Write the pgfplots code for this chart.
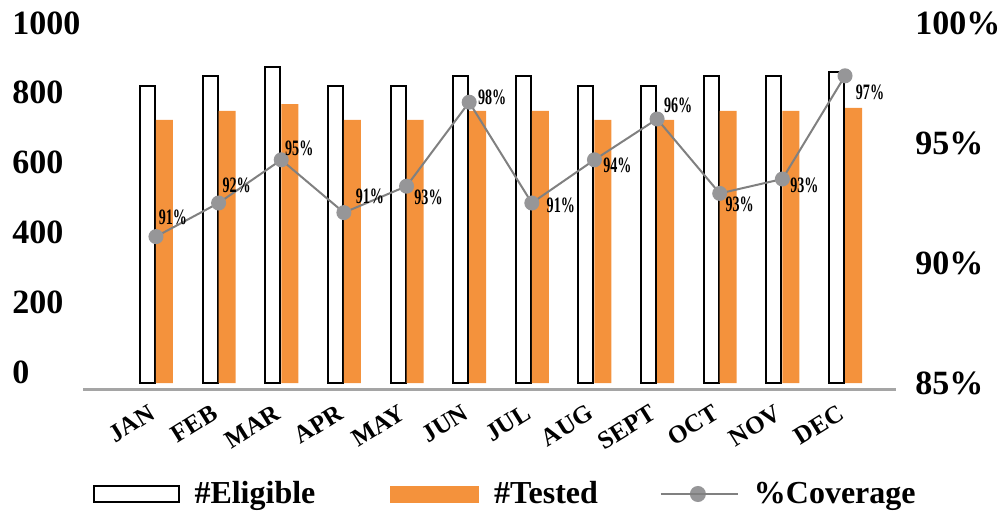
\documentclass[border=0pt]{standalone}
\usepackage{fontspec}
\setmainfont{Liberation Serif}
\newfontfamily\condfont[FakeStretch=0.64]{Liberation Serif}
\usepackage{pgfplots}
\pgfplotsset{compat=1.18}
\definecolor{orangebar}{RGB}{244,146,60}
\definecolor{linegray}{RGB}{128,128,128}
\definecolor{markgray}{RGB}{150,150,152}
\definecolor{axisgray}{RGB}{165,165,165}

\pgfplotstableread{
x elig test
0 825 731
1 853 756
2 878 775
3 825 731
4 825 731
5 853 756
6 853 756
7 825 731
8 825 731
9 853 756
10 853 756
11 864 764
}\bardata

\pgfplotstableread{
x cov lab dx dy
0 91.1 91 8.5 9.5
1 92.5 92 9 9
2 94.3 95 9 5.5
3 92.1 91 13 8
4 93.2 93 11 -5.5
5 96.7 98 11.5 2.5
6 92.5 91 14.5 -1
7 94.3 94 11.5 -3
8 96.0 96 10.5 7
9 92.9 93 10 -5.5
10 93.5 93 11 -3
11 97.8 97 12.5 -8.5
}\covdata

\begin{document}
\begin{tikzpicture}
\useasboundingbox (0pt,0pt) rectangle (500pt,255pt);
\pgfplotsset{base/.style={scale only axis, width=406.5pt, height=180pt,
  at={(41.5pt,63.5pt)}, anchor=south west, xmin=-1.165, xmax=11.814, clip=false,
  major tick length=0pt}}

% left tick labels
\begin{axis}[base, ymin=-31.5, ymax=1000, axis x line=none, axis y line*=left,
  y axis line style={draw=none}, xtick=\empty,
  ytick={0,200,400,600,800,1000}, yticklabels={0,200,400,600,800,1000},
  yticklabel style={anchor=west, inner sep=0pt, xshift=-35.5pt,
    font=\fontsize{17}{20}\selectfont\bfseries}]
\addplot[draw=none] coordinates {(0,0)};
\end{axis}

% bars
\begin{axis}[base, name=main, ymin=0, ymax=1000, axis y line=none, axis x line*=bottom,
  x axis line style={draw=none}, ytick=\empty,
  xtick={0,...,11}, xticklabels={JAN,FEB,MAR,APR,MAY,JUN,JUL,AUG,SEPT,OCT,NOV,DEC},
  xticklabel style={font=\fontsize{12.5}{14}\selectfont\bfseries, xshift=-4pt, yshift=-10pt,
    rotate=32, anchor=north east, inner sep=0pt}]
\addplot[ybar, bar width=7.5pt, bar shift=-4.25pt, draw=black, line width=1pt, fill=white]
  table[x=x, y=elig] {\bardata};
\addplot[ybar, bar width=8.5pt, bar shift=4.25pt, draw=none, fill=orangebar]
  table[x=x, y=test] {\bardata};
\end{axis}

% coverage line
\begin{axis}[base, ymin=85, ymax=100, axis x line=none, axis y line*=right,
  y axis line style={draw=none}, xtick=\empty,
  ytick={85,90,95,100}, yticklabels={85\%,90\%,95\%,100\%},
  yticklabel style={anchor=west, inner sep=0pt, xshift=9.5pt,
    font=\fontsize{17}{20}\selectfont\bfseries},
  legend columns=3,
  legend style={draw=none, fill=none, at={(0.0123,-0.3083)}, anchor=west,
    inner sep=0pt, outer sep=0pt, nodes={inner sep=0pt},
    font=\fontsize{16}{19}\selectfont\bfseries, cells={anchor=west},
    /tikz/every odd column/.append style={column sep=7.5pt},
    /tikz/column 2/.append style={column sep=37.5pt},
    /tikz/column 4/.append style={column sep=31pt}}]
\addlegendimage{legend image code/.code={
  \draw[black, line width=0.75pt, fill=white] (0pt,-4pt) rectangle (42.5pt,4pt);}}
\addlegendentry{\#Eligible}
\addlegendimage{legend image code/.code={
  \fill[orangebar] (0pt,-4pt) rectangle (44pt,4pt);}}
\addlegendentry{\#Tested}
\addplot[linegray, line width=1pt, mark=*, mark size=3.25pt,
  mark options={fill=markgray, draw=markgray},
  point meta=explicit symbolic,
  nodes near coords={\pgfplotspointmeta\%},
  visualization depends on=\thisrow{dx}\as\dx,
  visualization depends on=\thisrow{dy}\as\dy,
  every node near coord/.append style={anchor=center, xshift=\dx pt, yshift=\dy pt,
    font=\condfont\bfseries\fontsize{11}{12}\selectfont, text=black, inner sep=0pt},
  legend image code/.code={
    \draw[linegray, line width=1pt] (0pt,0pt) -- (34.5pt,0pt);
    \fill[markgray] (18.5pt,0pt) circle (3.5pt);
    \path (0pt,0pt) -- (38.5pt,0pt);}]
  table[x=x, y=cov, meta=lab] {\covdata};
\addlegendentry{\%Coverage}
\end{axis}

\draw[axisgray, line width=1.5pt] (41.5pt,60.5pt) -- (448pt,60.5pt);
\end{tikzpicture}
\end{document}
